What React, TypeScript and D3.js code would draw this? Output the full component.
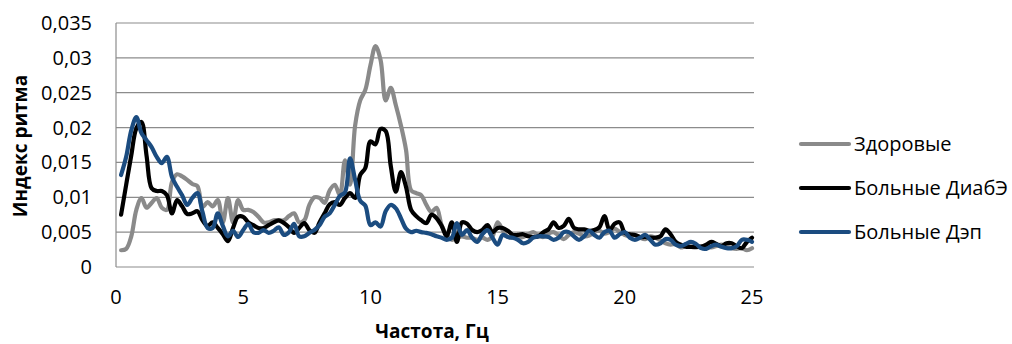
import { useEffect, useRef } from 'react'
import * as d3 from 'd3'

// frequency grid, Hz (0.2 … 25)
const FREQ = d3.range(1, 126).map((k) => +(k * 0.2).toFixed(1))

const HEALTHY = [
  0.0024, 0.0026, 0.0044, 0.0082, 0.0099, 0.0085, 0.0092, 0.0099, 0.0085, 0.0082,
  0.0122, 0.0133, 0.0130, 0.0125, 0.0119, 0.0116, 0.0086, 0.0093, 0.0087, 0.0096,
  0.0064, 0.0099, 0.0064, 0.0096, 0.0082, 0.0082, 0.0079, 0.0072, 0.0064, 0.0064,
  0.0067, 0.0067, 0.0067, 0.0073, 0.0077, 0.0064, 0.0067, 0.0089, 0.0100, 0.0099,
  0.0092, 0.0110, 0.0118, 0.0103, 0.0153, 0.0118, 0.0203, 0.0239, 0.0254, 0.0289,
  0.0317, 0.0297, 0.0239, 0.0257, 0.0232, 0.0203, 0.0168, 0.0110, 0.0106, 0.0103,
  0.0089, 0.0079, 0.0085, 0.0060, 0.0046, 0.0039, 0.0042, 0.0044, 0.0042, 0.0042,
  0.0039, 0.0042, 0.0039, 0.0044, 0.0064, 0.0053, 0.0043, 0.0042, 0.0042, 0.0043,
  0.0047, 0.0050, 0.0045, 0.0043, 0.0048, 0.0050, 0.0045, 0.0040, 0.0046, 0.0050,
  0.0048, 0.0044, 0.0045, 0.0050, 0.0052, 0.0048, 0.0050, 0.0055, 0.0050, 0.0046,
  0.0044, 0.0046, 0.0042, 0.0040, 0.0044, 0.0042, 0.0038, 0.0034, 0.0032, 0.0033,
  0.0028, 0.0030, 0.0029, 0.0028, 0.0030, 0.0029, 0.0028, 0.0030, 0.0032, 0.0030,
  0.0027, 0.0026, 0.0027, 0.0024, 0.0027,
]

const DIAB = [
  0.0075, 0.0118, 0.0160, 0.0199, 0.0208, 0.0160, 0.0113, 0.0109, 0.0109, 0.0103,
  0.0077, 0.0096, 0.0087, 0.0076, 0.0077, 0.0080, 0.0067, 0.0059, 0.0064, 0.0056,
  0.0047, 0.0037, 0.0056, 0.0072, 0.0072, 0.0064, 0.0060, 0.0056, 0.0056, 0.0060,
  0.0064, 0.0067, 0.0063, 0.0057, 0.0049, 0.0056, 0.0063, 0.0053, 0.0049, 0.0064,
  0.0077, 0.0090, 0.0093, 0.0089, 0.0099, 0.0106, 0.0099, 0.0132, 0.0142, 0.0180,
  0.0176, 0.0198, 0.0195, 0.0145, 0.0108, 0.0136, 0.0115, 0.0082, 0.0073, 0.0067,
  0.0063, 0.0075, 0.0070, 0.0059, 0.0044, 0.0064, 0.0036, 0.0064, 0.0062, 0.0053,
  0.0050, 0.0053, 0.0060, 0.0050, 0.0056, 0.0056, 0.0052, 0.0046, 0.0046, 0.0047,
  0.0044, 0.0043, 0.0044, 0.0050, 0.0054, 0.0064, 0.0056, 0.0059, 0.0069, 0.0056,
  0.0054, 0.0054, 0.0052, 0.0053, 0.0057, 0.0073, 0.0053, 0.0062, 0.0064, 0.0049,
  0.0047, 0.0046, 0.0043, 0.0043, 0.0042, 0.0042, 0.0044, 0.0054, 0.0047, 0.0036,
  0.0032, 0.0029, 0.0029, 0.0029, 0.0029, 0.0032, 0.0036, 0.0033, 0.0030, 0.0034,
  0.0034, 0.0030, 0.0027, 0.0036, 0.0042,
]

const DEP = [
  0.0132, 0.0158, 0.0196, 0.0215, 0.0192, 0.0182, 0.0172, 0.0158, 0.0149, 0.0158,
  0.0129, 0.0115, 0.0103, 0.0089, 0.0099, 0.0106, 0.0079, 0.0056, 0.0056, 0.0077,
  0.0059, 0.0044, 0.0052, 0.0043, 0.0053, 0.0062, 0.0050, 0.0049, 0.0053, 0.0049,
  0.0052, 0.0057, 0.0046, 0.0050, 0.0062, 0.0044, 0.0044, 0.0049, 0.0053, 0.0060,
  0.0072, 0.0077, 0.0089, 0.0102, 0.0107, 0.0156, 0.0125, 0.0095, 0.0088, 0.0060,
  0.0064, 0.0058, 0.0080, 0.0089, 0.0084, 0.0070, 0.0055, 0.0050, 0.0052, 0.0050,
  0.0049, 0.0047, 0.0044, 0.0042, 0.0039, 0.0042, 0.0063, 0.0046, 0.0053, 0.0042,
  0.0036, 0.0047, 0.0053, 0.0042, 0.0032, 0.0046, 0.0043, 0.0042, 0.0039, 0.0034,
  0.0036, 0.0042, 0.0044, 0.0044, 0.0043, 0.0039, 0.0042, 0.0050, 0.0050, 0.0044,
  0.0039, 0.0044, 0.0052, 0.0046, 0.0042, 0.0050, 0.0052, 0.0042, 0.0047, 0.0050,
  0.0042, 0.0039, 0.0042, 0.0046, 0.0039, 0.0032, 0.0034, 0.0040, 0.0039, 0.0032,
  0.0030, 0.0033, 0.0036, 0.0033, 0.0027, 0.0026, 0.0030, 0.0032, 0.0029, 0.0027,
  0.0027, 0.0030, 0.0039, 0.0039, 0.0036,
]

const SERIES = [
  { name: 'Здоровые', values: HEALTHY, color: '#8a8a8a' },
  { name: 'Больные ДиабЭ', values: DIAB, color: '#000000' },
  { name: 'Больные Дэп', values: DEP, color: '#1b4c80' },
]

const X_TICKS = [0, 5, 10, 15, 20, 25]
const Y_TICKS = [0, 0.005, 0.01, 0.015, 0.02, 0.025, 0.03, 0.035]

const W = 1012, H = 344
const PLOT = { l: 116, r: 752, t: 23, b: 267 }
const FONT = '"Open Sans", sans-serif'

export default function App() {
  const svgRef = useRef<SVGSVGElement>(null)

  useEffect(() => {
    const svg = d3.select(svgRef.current)
    svg.selectAll('*').remove()

    const x = d3.scaleLinear().domain([0, 25]).range([PLOT.l, PLOT.r])
    const y = d3.scaleLinear().domain([0, 0.035]).range([PLOT.b, PLOT.t])
    const fmt = (v: number) => (v === 0 ? '0' : String(+v.toFixed(3)).replace('.', ','))

    // gridlines + value axis line
    Y_TICKS.forEach((t) => {
      svg.append('line').attr('x1', PLOT.l).attr('x2', PLOT.r + 2).attr('y1', y(t)).attr('y2', y(t))
        .attr('stroke', '#8c8c8c').attr('stroke-width', 1.2)
    })
    svg.append('line').attr('x1', PLOT.l).attr('x2', PLOT.l).attr('y1', PLOT.t).attr('y2', PLOT.b)
      .attr('stroke', '#8c8c8c').attr('stroke-width', 1.2)

    Y_TICKS.forEach((t) => {
      svg.append('text').attr('x', 92).attr('y', y(t)).attr('dy', '0.35em').attr('text-anchor', 'end')
        .attr('font-family', FONT).attr('font-size', 20).attr('fill', '#000').text(fmt(t))
    })
    X_TICKS.forEach((t) => {
      svg.append('text').attr('x', x(t)).attr('y', 297).attr('dy', '0.35em').attr('text-anchor', 'middle')
        .attr('font-family', FONT).attr('font-size', 20).attr('fill', '#000').text(String(t))
    })

    svg.append('text').attr('transform', 'translate(27,146) rotate(-90)').attr('text-anchor', 'middle')
      .attr('font-family', FONT).attr('font-size', 19).attr('font-weight', 'bold').attr('fill', '#000').text('Индекс ритма')
    svg.append('text').attr('x', 432).attr('y', 338).attr('text-anchor', 'middle')
      .attr('font-family', FONT).attr('font-size', 19).attr('font-weight', 'bold').attr('fill', '#000').text('Частота, Гц')

    // smoothed lines, drawn in legend order so the blue series sits on top
    const line = d3.line<number>().x((_, i) => x(FREQ[i])).y((v) => y(v)).curve(d3.curveCatmullRom.alpha(0.5))
    SERIES.forEach((s) => {
      svg.append('path').datum(s.values).attr('d', line).attr('fill', 'none')
        .attr('stroke', s.color).attr('stroke-width', 4.2).attr('stroke-linejoin', 'round').attr('stroke-linecap', 'round')
    })

    SERIES.forEach((s, i) => {
      const ly = 144 + i * 44
      svg.append('line').attr('x1', 801).attr('x2', 849).attr('y1', ly).attr('y2', ly)
        .attr('stroke', s.color).attr('stroke-width', 4.2).attr('stroke-linecap', 'round')
      svg.append('text').attr('x', 854).attr('y', ly).attr('dy', '0.35em')
        .attr('font-family', FONT).attr('font-size', 20).attr('fill', '#000').text(s.name)
    })
  }, [])

  return (
    <div style={{ position: 'fixed', left: 0, top: 0, background: '#fff' }}>
      <svg ref={svgRef} width={W} height={H} style={{ display: 'block' }} />
    </div>
  )
}
